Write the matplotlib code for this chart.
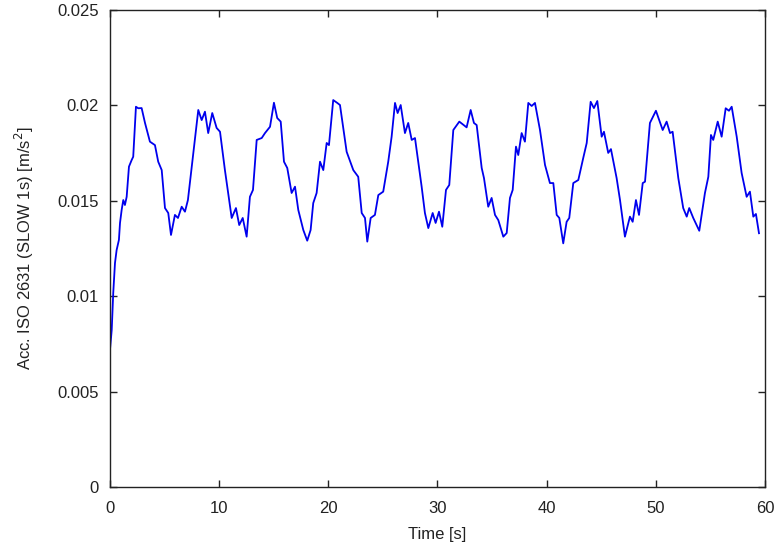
import numpy as np
import matplotlib
matplotlib.use("Agg")
import matplotlib.pyplot as plt

plt.rcParams['font.family'] = ['Liberation Sans', 'DejaVu Sans']

# time [s] and acceleration [m/s^2]
time_s = [0.00, 0.16, 0.30, 0.46, 0.61, 0.82, 0.92, 1.07, 1.22, 1.37, 1.53, 1.74, 1.99, 2.13,
          2.38, 2.59, 2.90, 3.21, 3.66, 4.12, 4.42, 4.74, 5.04, 5.34, 5.59, 5.95, 6.23, 6.57,
          6.87, 7.14, 7.60, 8.09, 8.40, 8.70, 9.00, 9.37, 9.77, 10.08, 10.53, 11.15, 11.54,
          11.84, 12.16, 12.52, 12.82, 13.10, 13.44, 13.90, 14.20, 14.66, 15.02, 15.32, 15.64,
          15.94, 16.24, 16.64, 16.95, 17.25, 17.71, 18.07, 18.38, 18.62, 18.93, 19.24, 19.54,
          19.85, 20.06, 20.45, 20.82, 21.07, 21.68, 22.29, 22.74, 23.06, 23.36, 23.57, 23.88,
          24.27, 24.58, 25.03, 25.49, 25.80, 26.11, 26.35, 26.63, 27.02, 27.32, 27.64, 27.94,
          28.55, 28.85, 29.16, 29.56, 29.83, 30.14, 30.44, 30.78, 31.08, 31.45, 32.00, 32.67,
          33.04, 33.34, 33.59, 34.05, 34.26, 34.65, 34.96, 35.27, 35.57, 36.03, 36.34, 36.64,
          36.89, 37.19, 37.40, 37.71, 38.01, 38.32, 38.63, 38.93, 39.39, 39.85, 40.30, 40.61,
          40.92, 41.16, 41.52, 41.83, 42.07, 42.44, 42.90, 43.35, 43.67, 44.03, 44.33, 44.64,
          45.04, 45.25, 45.64, 45.89, 46.41, 46.72, 47.17, 47.63, 47.88, 48.18, 48.46, 48.80,
          49.01, 49.46, 50.01, 50.63, 50.99, 51.30, 51.54, 52.06, 52.51, 52.83, 53.06, 53.43,
          53.98, 54.50, 54.81, 55.05, 55.26, 55.67, 56.03, 56.40, 56.70, 56.95, 57.41, 57.86,
          58.32, 58.62, 58.93, 59.17, 59.45]
acc_mm = [7.18, 8.23, 10.17, 11.74, 12.42, 12.95, 13.84, 14.52, 15.04, 14.78, 15.21, 16.79, 17.14, 17.31,
          19.93, 19.85, 19.86, 19.08, 18.10, 17.92, 17.05, 16.61, 14.62, 14.36, 13.21, 14.26, 14.10, 14.69,
          14.43, 15.04, 17.31, 19.76, 19.23, 19.67, 18.55, 19.60, 18.82, 18.62, 16.61, 14.10, 14.62,
          13.73, 14.10, 13.12, 15.21, 15.57, 18.19, 18.29, 18.55, 18.88, 20.14, 19.34, 19.15,
          17.05, 16.72, 15.41, 15.74, 14.52, 13.47, 12.91, 13.47, 14.88, 15.41, 17.05, 16.61,
          18.03, 17.92, 20.28, 20.13, 20.02, 17.57, 16.61, 16.26, 14.36, 14.10, 12.86, 14.10,
          14.26, 15.30, 15.48, 17.05, 18.36, 20.13, 19.60, 20.02, 18.55, 19.08, 18.19, 18.29,
          15.74, 14.36, 13.57, 14.36, 13.84, 14.43, 13.64, 15.57, 15.83, 18.71, 19.15, 18.85,
          19.76, 19.08, 18.97, 16.72, 16.19, 14.69, 15.15, 14.26, 13.99, 13.12, 13.31, 15.15,
          15.57, 17.84, 17.40, 18.55, 18.10, 20.13, 19.97, 20.13, 18.71, 16.88, 15.93, 15.93,
          14.26, 14.10, 12.77, 13.90, 14.10, 15.93, 16.09, 17.24, 18.03, 20.19, 19.86, 20.23,
          18.36, 18.62, 17.51, 17.71, 16.19, 15.04, 13.12, 14.17, 13.90, 15.04, 14.26, 15.93,
          16.00, 19.08, 19.72, 18.71, 19.15, 18.55, 18.62, 16.19, 14.62, 14.17, 14.62, 14.10,
          13.43, 15.41, 16.26, 18.45, 18.19, 19.15, 18.36, 19.85, 19.72, 19.93, 18.36, 16.46,
          15.21, 15.48, 14.17, 14.31, 13.30]
acc = np.array(acc_mm) / 1000.0

x_ticks = [0, 10, 20, 30, 40, 50, 60]
y_ticks = [0, 0.005, 0.01, 0.015, 0.02, 0.025]
y_tick_labels = ['0', '0.005', '0.01', '0.015', '0.02', '0.025']

fig = plt.figure(figsize=(7.81, 5.47), dpi=100)
ax = fig.add_axes([0.1408, 0.1097, 0.8387, 0.872])

ax.plot(time_s, acc, color='#0000ee', linewidth=1.3, solid_joinstyle='round')

ax.set_xlim(0, 60)
ax.set_ylim(0, 0.025)
ax.set_xticks(x_ticks)
ax.set_xticklabels([str(t) for t in x_ticks])
ax.set_yticks(y_ticks)
ax.set_yticklabels(y_tick_labels)
ax.tick_params(direction='in', length=5, width=1, top=True, right=True,
               labelsize=12, pad=8, colors='#222222')
ax.tick_params(axis='x', pad=10)
for s in ax.spines.values():
    s.set_linewidth(1.0)
    s.set_color('#222222')

ax.set_xlabel('Time [s]', fontsize=12, labelpad=8, color='#222222')
ax.set_ylabel('Acc. ISO 2631 (SLOW 1s) [m/s$^2$]', fontsize=12, labelpad=15, color='#222222')

fig.savefig('out.png', dpi=100)
